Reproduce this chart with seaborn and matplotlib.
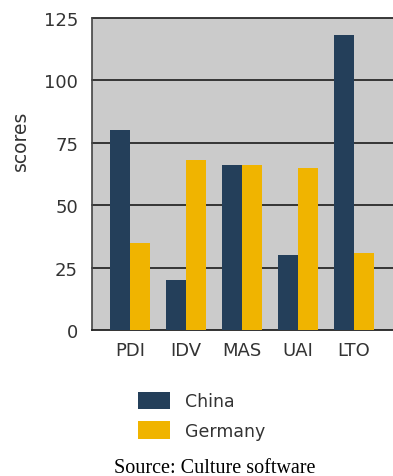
import matplotlib
matplotlib.use("Agg")
import matplotlib.pyplot as plt
import seaborn as sns
import pandas as pd

categories = ["PDI", "IDV", "MAS", "UAI", "LTO"]
china = [80, 20, 66, 30, 118]
germany = [35, 68, 66, 65, 31]
series_names = ["China", "Germany"]
y_ticks = [0, 25, 50, 75, 100, 125]

df = pd.DataFrame({
    "dim": categories * 2,
    "score": china + germany,
    "country": [series_names[0]] * len(categories) + [series_names[1]] * len(categories),
})

sns.set_theme(style="white")
plt.rcParams["font.family"] = ["DejaVu Sans"]

W, H = 393, 477
fig = plt.figure(figsize=(W / 100, H / 100), dpi=100)
ax = fig.add_axes([92 / W, 1 - 331 / H, 1 - 92 / W, (331 - 19) / H])
ax.set_facecolor("#cbcbcb")

palette = {"China": "#243f5a", "Germany": "#f0b400"}
sns.barplot(data=df, x="dim", y="score", hue="country", palette=palette,
            width=0.7, saturation=1, ax=ax, zorder=3, edgecolor="none")

ax.set_ylim(0, 125)
ax.set_xlim(-0.68, 4.695)
ax.set_yticks(y_ticks)
ax.set_yticklabels([str(v) for v in y_ticks])
for v in y_ticks[1:]:
    ax.axhline(v, color="#2a2a2a", lw=1.3, zorder=2, clip_on=False)
ax.tick_params(axis="y", length=0, labelsize=13, colors="#333333", pad=10)
ax.tick_params(axis="x", length=0, labelsize=13, colors="#333333", pad=8)
ax.set_xlabel("")
ax.set_ylabel("scores", fontsize=13.5, color="#333333")
ax.yaxis.set_label_coords(-0.205, 0.61)
for s in ["top", "right"]:
    ax.spines[s].set_visible(False)
ax.spines["left"].set_color("#444444")
ax.spines["bottom"].set_color("#222222")
ax.spines["left"].set_linewidth(1.2)
ax.spines["bottom"].set_linewidth(1.3)

handles, labels = ax.get_legend_handles_labels()
ax.get_legend().remove()
fig.legend(handles, labels, loc="upper left", bbox_to_anchor=(122 / W, 1 - 377 / H),
           frameon=False, fontsize=12.5, handlelength=1.85, handleheight=1.2,
           labelspacing=0.6, handletextpad=0.85, labelcolor="#333333")

fig.text(215 / W, 1 - 469 / H, "Source: Culture software", ha="center", va="center",
         fontsize=14.5, family=["Liberation Serif"], color="black")

fig.savefig("out.png", dpi=100, facecolor="white")
